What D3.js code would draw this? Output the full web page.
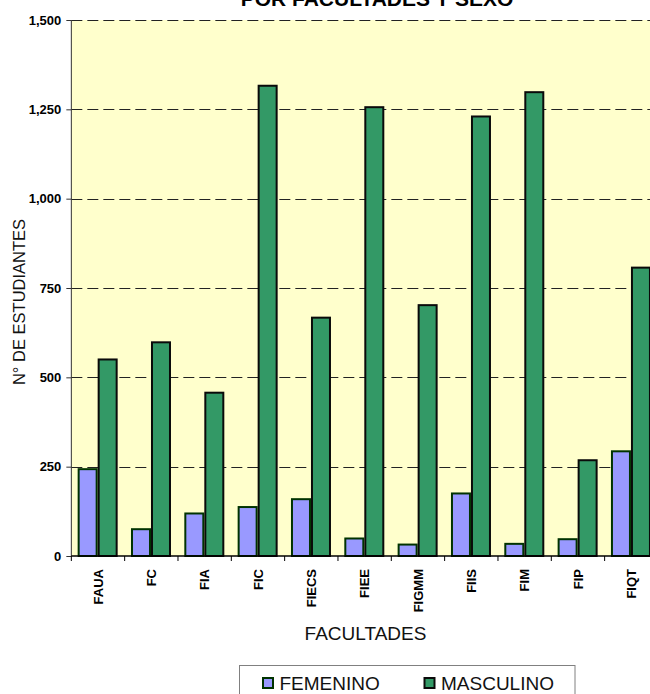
<!DOCTYPE html>
<html>
<head>
<meta charset="utf-8">
<script src="https://cdn.jsdelivr.net/npm/d3@7"></script>
<style>
  html, body { margin: 0; padding: 0; background: #fff; }
  svg { display: block; font-family: "Liberation Sans", Arial, sans-serif; }
</style>
</head>
<body>
<svg id="chart" width="650" height="694"></svg>
<script>
// ---- data ----
const categories = ["FAUA", "FC", "FIA", "FIC", "FIECS", "FIEE", "FIGMM", "FIIS", "FIM", "FIP", "FIQT"];
const seriesNames = ["FEMENINO", "MASCULINO"];
const femenino  = [243, 75, 119, 137, 159, 49, 32, 175, 34, 47, 293];
const masculino = [550, 598, 457, 1316, 667, 1256, 702, 1230, 1298, 268, 807];
const yTicks = [0, 250, 500, 750, 1000, 1250, 1500];
const titleText = "POR FACULTADES Y SEXO";
const yTitle = "N° DE ESTUDIANTES";
const xTitle = "FACULTADES";

// ---- styles ----
const fills = ["#9999FF", "#339966"];
const strokes = ["#003300", "#0a0a0a"];

const svg = d3.select("#chart");
const plot = { left: 71.33, top: 20, bottom: 556, band: 53.33 };
plot.right = plot.left + plot.band * categories.length;

const x0 = d3.scaleBand().domain(categories).range([plot.left, plot.right]).padding(0);
const x1 = d3.scaleBand().domain(seriesNames).range([6.33, 46.33]).padding(0);
const y = d3.scaleLinear().domain([0, 1500]).range([plot.bottom, plot.top]);

// plot background
svg.append("rect")
  .attr("x", plot.left).attr("y", plot.top)
  .attr("width", plot.right - plot.left).attr("height", plot.bottom - plot.top)
  .attr("fill", "#FFFFCC");

// gridlines
svg.append("g").selectAll("line")
  .data(yTicks.filter(d => d > 0))
  .join("line")
  .attr("x1", plot.left).attr("x2", plot.right)
  .attr("y1", d => Math.round(y(d)) + 0.5).attr("y2", d => Math.round(y(d)) + 0.5)
  .attr("stroke", "#222").attr("stroke-width", 1)
  .attr("stroke-dasharray", "11,5");

// bars
const rows = categories.map((c, i) => ({ cat: c, values: [femenino[i], masculino[i]] }));
const groups = svg.append("g").selectAll("g")
  .data(rows).join("g")
  .attr("transform", d => `translate(${x0(d.cat)},0)`);
groups.selectAll("rect")
  .data(d => d.values.map((v, j) => ({ s: seriesNames[j], v, j })))
  .join("rect")
  .attr("x", d => x1(d.s) + 1)
  .attr("width", x1.bandwidth() - 2)
  .attr("y", d => y(d.v))
  .attr("height", d => y(0) - y(d.v))
  .attr("fill", d => fills[d.j])
  .attr("stroke", d => strokes[d.j])
  .attr("stroke-width", 2);

// y axis
const yAxis = d3.axisLeft(y).tickValues(yTicks).tickSize(5).tickPadding(5)
  .tickFormat(d3.format(","));
const gy = svg.append("g").attr("transform", `translate(${plot.left},0)`).call(yAxis);
gy.select(".domain").attr("stroke", "#333").attr("d", `M0,${plot.top}V${plot.bottom}`);
gy.selectAll(".tick line").attr("stroke", "#333");
gy.selectAll(".tick text")
  .attr("font-family", "Liberation Sans, Arial, sans-serif")
  .attr("font-size", 13).attr("font-weight", "bold").attr("fill", "#000");

// x axis
const xAxis = d3.axisBottom(x0).tickSize(0).tickPadding(0);
const gx = svg.append("g").attr("transform", `translate(0,${plot.bottom})`).call(xAxis);
gx.select(".domain").attr("stroke", "#000").attr("stroke-width", 1.5)
  .attr("d", `M${plot.left},0H${plot.right}`);
gx.selectAll(".tick line").remove();
gx.selectAll(".tick text")
  .attr("font-family", "Liberation Sans, Arial, sans-serif")
  .attr("font-size", 13).attr("font-weight", "bold").attr("fill", "#000")
  .attr("transform", "rotate(-90)")
  .attr("text-anchor", "end")
  .attr("x", -13).attr("y", 0).attr("dy", "0.35em");
// boundary tick marks between categories
svg.append("g").selectAll("line")
  .data(categories)
  .join("line")
  .attr("x1", d => x0(d)).attr("x2", d => x0(d))
  .attr("y1", plot.bottom).attr("y2", plot.bottom + 5)
  .attr("stroke", "#000").attr("stroke-width", 1);

// title
svg.append("text")
  .attr("x", 377).attr("y", 6)
  .attr("text-anchor", "middle")
  .attr("font-size", 21).attr("font-weight", "bold").attr("fill", "#000")
  .text(titleText);

// y title
svg.append("text")
  .attr("transform", "translate(25,302) rotate(-90)")
  .attr("text-anchor", "middle")
  .attr("font-size", 16.5).attr("fill", "#111")
  .text(yTitle);

// x title
svg.append("text")
  .attr("x", 365.5).attr("y", 640)
  .attr("text-anchor", "middle")
  .attr("font-size", 19).attr("fill", "#111")
  .text(xTitle);

// legend
const lg = svg.append("g");
lg.append("rect")
  .attr("x", 239.5).attr("y", 665.5).attr("width", 335.5).attr("height", 40)
  .attr("fill", "#fff").attr("stroke", "#808080").attr("stroke-width", 1);
const items = lg.selectAll("g.item").data(seriesNames).join("g")
  .attr("class", "item")
  .attr("transform", (d, i) => `translate(${262 + i * 161.5},677)`);
items.append("rect")
  .attr("x", 1).attr("y", 1).attr("width", 10).attr("height", 10)
  .attr("fill", (d, i) => fills[i]).attr("stroke", (d, i) => strokes[i]).attr("stroke-width", 2);
items.append("text")
  .attr("x", 17.5).attr("y", 12.5)
  .attr("font-size", 19).attr("fill", "#111")
  .text(d => d);
</script>
</body>
</html>
